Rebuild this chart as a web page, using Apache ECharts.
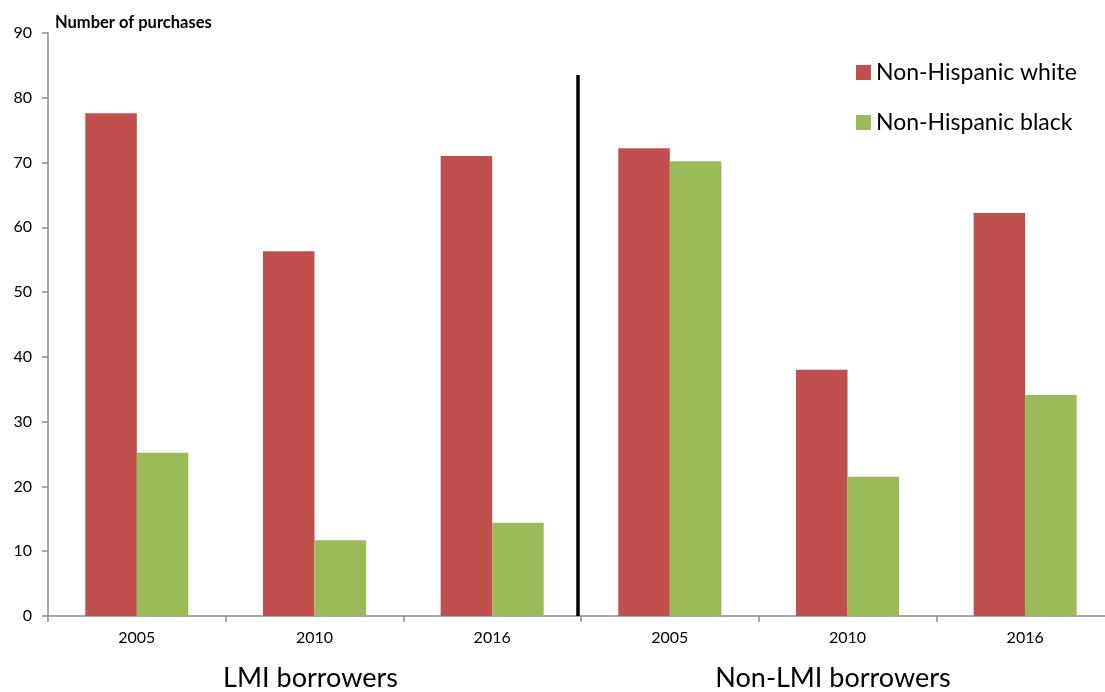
<!DOCTYPE html>
<html>
<head>
<meta charset="utf-8">
<script src="https://cdn.jsdelivr.net/npm/echarts@6/dist/echarts.min.js"></script>
<style>
  html, body { margin: 0; padding: 0; background: #fff; }
  #chart { width: 1105px; height: 692px; }
</style>
</head>
<body>
<div id="chart"></div>
<script>
var years = ['2005', '2010', '2016', '2005', '2010', '2016']
var groups = ['LMI borrowers', 'Non-LMI borrowers']
var whiteVals = [77.6, 56.3, 71.0, 72.2, 38.0, 62.2]
var blackVals = [25.2, 11.7, 14.4, 70.2, 21.5, 34.1]
var seriesNames = ['Non-Hispanic white', 'Non-Hispanic black']
var dividerTop = 83.5 // top of the separator line, in axis units

var font = 'Lato, "Liberation Sans", sans-serif'
var myChart = echarts.init(document.getElementById('chart'))

var option = {
  animation: false,
  textStyle: { fontFamily: font },
  title: {
    text: 'Number of purchases',
    left: 50,
    top: 9,
    textStyle: { fontSize: 16.5, fontWeight: 'bold', color: '#000', fontFamily: font }
  },
  legend: {
    orient: 'vertical',
    left: 851,
    top: 56,
    icon: 'rect',
    itemWidth: 15,
    itemHeight: 15,
    itemGap: 27,
    textStyle: { fontSize: 23, color: '#000', fontFamily: font },
    data: seriesNames
  },
  grid: { left: 48, width: 1066, top: 33, bottom: 76, outerBoundsMode: 'none', containLabel: false },
  xAxis: [
    {
      type: 'category',
      data: years,
      axisLine: { lineStyle: { color: '#8c8c8c', width: 1.5 } },
      axisTick: { show: true, length: 6, lineStyle: { color: '#8c8c8c', width: 1.5 } },
      axisLabel: { color: '#000', fontSize: 16, margin: 14, fontFamily: font }
    },
    {
      type: 'category',
      position: 'bottom',
      data: groups,
      axisLine: { show: false },
      axisTick: { show: false },
      axisLabel: {
        color: '#000',
        fontSize: 27,
        margin: 49,
        fontFamily: font,
        formatter: function(v) { return v === groups[1] ? '{s|' + v + '}' : '{f|' + v + '}' },
        rich: {
          f: { fontSize: 27, fontFamily: font, color: '#000', padding: [0, 8, 0, 0] },
          s: { fontSize: 27, fontFamily: font, color: '#000', padding: [0, 29, 0, 0] }
        }
      }
    }
  ],
  yAxis: {
    type: 'value',
    min: 0,
    max: 90,
    interval: 10,
    splitLine: { show: false },
    axisLine: { show: true, lineStyle: { color: '#8c8c8c', width: 1.5 } },
    axisTick: { show: true, length: 6, lineStyle: { color: '#8c8c8c', width: 1.5 } },
    axisLabel: { color: '#000', fontSize: 16, margin: 16, fontFamily: font }
  },
  series: [
    {
      name: seriesNames[0],
      type: 'bar',
      xAxisIndex: 0,
      barWidth: '29%',
      barGap: '0%',
      itemStyle: { color: '#C0504D' },
      data: whiteVals
    },
    {
      name: seriesNames[1],
      type: 'bar',
      xAxisIndex: 0,
      barWidth: '29%',
      barGap: '0%',
      itemStyle: { color: '#9BBB59' },
      data: blackVals
    }
  ]
}
myChart.setOption(option)

// separator between the two borrower groups
var p2 = myChart.convertToPixel({ xAxisIndex: 0, yAxisIndex: 0 }, [2, 0])
var p3 = myChart.convertToPixel({ xAxisIndex: 0, yAxisIndex: 0 }, [3, dividerTop])
var lineX = (p2[0] + p3[0]) / 2 - 3
myChart.setOption({
  graphic: [
    {
      type: 'line',
      shape: { x1: lineX, y1: p3[1], x2: lineX, y2: p2[1] },
      style: { stroke: '#000', lineWidth: 3.5 },
      z: 10
    }
  ]
})
</script>
</body>
</html>
